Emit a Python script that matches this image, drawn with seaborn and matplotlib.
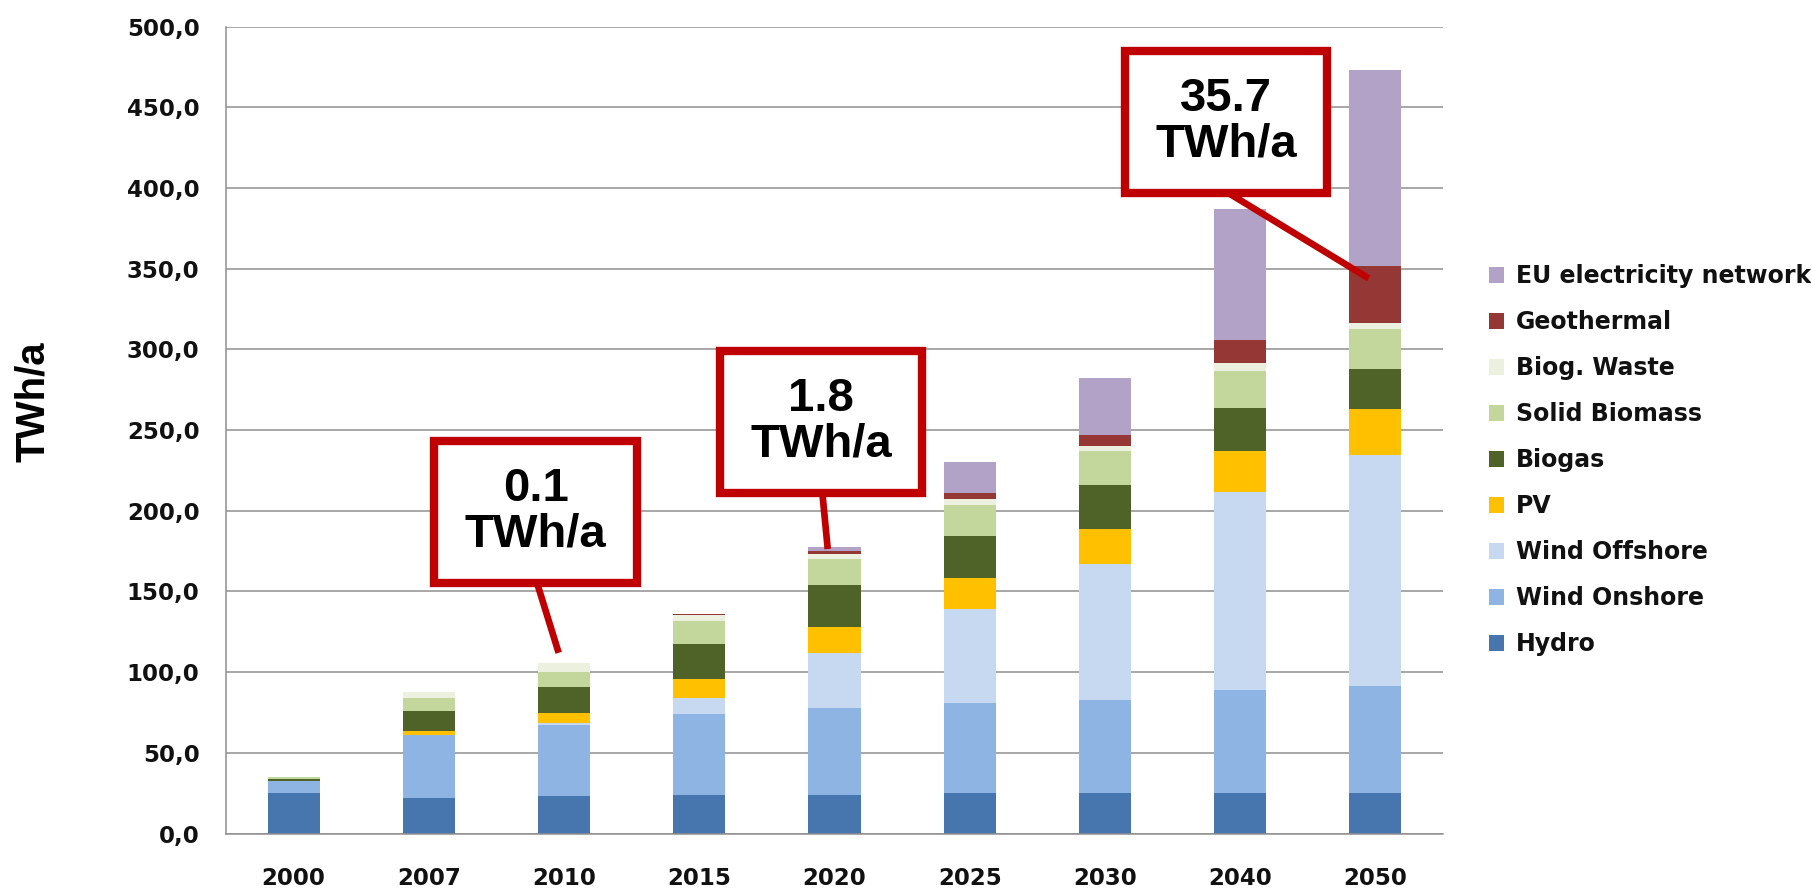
import numpy as np
import pandas as pd
import matplotlib
matplotlib.use('Agg')
import matplotlib.pyplot as plt
from matplotlib.patches import Rectangle, Patch
import seaborn as sns

# data (TWh/a)
years = ['2000', '2007', '2010', '2015', '2020', '2025', '2030', '2040', '2050']
hydro = [25.3, 21.8, 23.5, 23.9, 23.9, 25.3, 25.3, 25.3, 25.3]
wind_onshore = [7.4, 39.0, 44.0, 49.9, 54.1, 55.5, 57.3, 63.6, 66.1]
wind_offshore = [0.0, 0.0, 0.8, 10.5, 33.7, 58.3, 84.3, 122.6, 143.3]
pv = [0.0, 2.8, 6.5, 11.6, 16.0, 19.4, 22.1, 25.7, 28.1]
biogas = [1.0, 12.6, 16.2, 21.8, 26.2, 25.6, 26.7, 26.3, 25.3]
solid_biomass = [1.1, 8.1, 9.1, 13.7, 16.1, 19.7, 21.1, 22.9, 24.6]
biog_waste = [0.0, 3.5, 5.3, 3.9, 3.5, 3.2, 3.5, 5.2, 3.5]
geothermal = [0.0, 0.1, 0.1, 0.5, 1.8, 4.2, 6.4, 14.1, 35.7]
eu_network = [0.0, 0.0, 0.0, 0.0, 2.4, 19.3, 35.5, 81.5, 120.9]

series_names = ['Hydro', 'Wind Onshore', 'Wind Offshore', 'PV', 'Biogas',
                'Solid Biomass', 'Biog. Waste', 'Geothermal', 'EU electricity network']
series_vals = [hydro, wind_onshore, wind_offshore, pv, biogas,
               solid_biomass, biog_waste, geothermal, eu_network]
colors = ['#4775ad', '#8eb4e3', '#c6d9f1', '#ffc000', '#4f6228',
          '#c3d69b', '#ebf1de', '#953735', '#b3a2c7']

# callouts: text, box (x0, x1, y0, y1) in category/data units, leader line start/end
callout_text = ['0.1\nTWh/a', '1.8\nTWh/a', '35.7\nTWh/a']
callout_box = [(1.04, 2.54, 155.3, 243.2), (3.15, 4.65, 211.0, 299.0), (6.15, 7.64, 397.0, 485.0)]
callout_line = [((1.80, 155.3), (1.96, 112.0)),
                ((3.91, 211.0), (3.95, 176.3)),
                ((6.91, 397.0), (7.95, 344.0))]

df = pd.DataFrame(dict(zip(series_names, series_vals)), index=years)
cum = df.cumsum(axis=1)

sns.set_style('white')
plt.rcParams['font.family'] = ['DejaVu Sans']

fig = plt.figure(figsize=(18.11, 8.9), dpi=100)
ax = fig.add_axes([0.1248, 0.0634, 0.672, 0.9068])

# stacked bars: draw the cumulative totals from top layer down
for name, col in zip(series_names[::-1], colors[::-1]):
    sns.barplot(x=years, y=cum[name].values, color=col, saturation=1,
                width=0.385, linewidth=0, ax=ax)

ax.set_ylim(0, 500)
ax.set_xlim(-0.5, 8.5)
ax.set_yticks(np.arange(0, 501, 50))
ax.set_yticklabels([f'{v:.1f}'.replace('.', ',') for v in np.arange(0, 501, 50)])
ax.yaxis.grid(True, color='#8f8f8f', lw=1.1)
ax.set_axisbelow(True)
for s in ['top', 'right']:
    ax.spines[s].set_visible(False)
for s in ['left', 'bottom']:
    ax.spines[s].set_color('#8f8f8f')
    ax.spines[s].set_linewidth(1.1)

ax.tick_params(axis='y', length=7, color='#8f8f8f', pad=12, labelsize=16.5)
ax.tick_params(axis='x', which='major', length=0, pad=24, labelsize=16.5)
ax.set_xticks(np.arange(-0.5, 9.0, 1.0), minor=True)
ax.tick_params(axis='x', which='minor', length=6, color='#8f8f8f')
for lab in ax.get_xticklabels() + ax.get_yticklabels():
    lab.set_fontweight('bold')
    lab.set_color('#111111')
ax.set_xlabel('')
ax.set_ylabel('')

fig.text(0.018, 0.549, 'TWh/a', rotation=90, ha='center', va='center',
         fontsize=29, fontweight='bold', family='Liberation Sans', color='black')

# callouts
red = '#c00000'
for txt, (x0, x1, y0, y1), (p0, p1) in zip(callout_text, callout_box, callout_line):
    ax.plot([p0[0], p1[0]], [p0[1], p1[1]], color=red, lw=4.8, solid_capstyle='butt', zorder=5)
    ax.add_patch(Rectangle((x0, y0), x1 - x0, y1 - y0, facecolor='white',
                           edgecolor=red, lw=6, zorder=6))
    ax.text((x0 + x1) / 2, (y0 + y1) / 2, txt, ha='center', va='center',
            fontsize=34, fontweight='bold', family='Liberation Sans', color='black',
            linespacing=1.05, zorder=7)

handles = [Patch(facecolor=c, edgecolor='none', label=n)
           for n, c in zip(series_names[::-1], colors[::-1])]
leg = fig.legend(handles=handles, loc='center left', bbox_to_anchor=(0.822, 0.483),
                 frameon=False, handlelength=0.65, handleheight=0.65,
                 handletextpad=0.5, labelspacing=0.93, borderpad=0, borderaxespad=0,
                 prop={'weight': 'bold', 'size': 17})
for t in leg.get_texts():
    t.set_color('#111111')

fig.savefig('out.png', dpi=100, facecolor='white')
